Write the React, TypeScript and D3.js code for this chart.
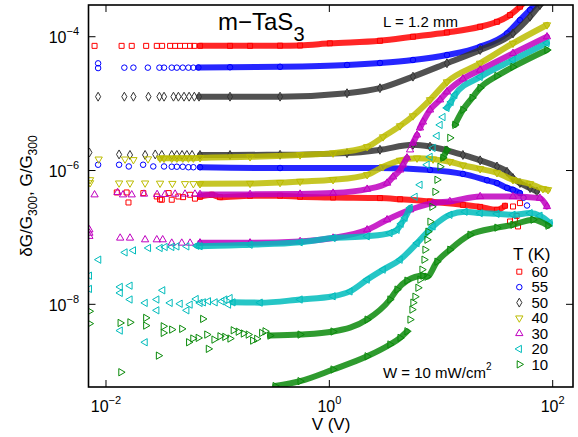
import React from "react";
import * as d3 from "d3";

type Pt = [number, number];

const temperatures = [60, 55, 50, 40, 30, 20, 10];
const tempColors = ["#ff0000", "#0000ff", "#333333", "#bcbc00", "#c000c0", "#00bcbc", "#0a8a0a"];
const xTickExponents = [-2, 0, 2];
const yTickExponents = [-4, -6, -8];

// ---- 60 K ----
const g60: Pt[] = [
  [0.0079, 7.3e-5], [0.0138, 7.3e-5], [0.017, 7.3e-5], [0.0229, 7.3e-5], [0.0285, 7.3e-5], [0.0318, 7.3e-5],
  [0.0375, 7.3e-5], [0.0416, 7.3e-5], [0.046, 7.3e-5], [0.051, 7.3e-5], [0.0566, 7.3e-5], [0.0618, 7.3e-5],
  [0.0695, 7.3e-5], [0.129, 7.3e-5], [0.195, 7.3e-5], [0.362, 7.35e-5], [0.547, 7.4e-5], [1.01, 7.96e-5],
  [2.84, 8.7e-5], [5.61, 1.0e-4], [11.3, 1.16e-4], [22.4, 1.41e-4], [31.7, 1.67e-4], [41.5, 2.11e-4],
  [50.9, 2.81e-4], [57.6, 3.5e-4],
];
const dg60: Pt[] = [
  [0.0125, 4.7e-7], [0.0153, 4.7e-7], [0.0159, 3.33e-7], [0.0216, 4.6e-7], [0.0285, 4.09e-7], [0.0305, 3.7e-7],
  [0.0316, 3.66e-7], [0.0364, 4.6e-7], [0.0388, 3.66e-7], [0.0445, 4.09e-7], [0.049, 4.0e-7], [0.0566, 4.34e-7],
  [0.0626, 3.8e-7], [0.0695, 4.05e-7], [0.0885, 4.34e-7], [0.105, 4.0e-7], [0.195, 4.19e-7], [0.362, 4.2e-7],
  [0.547, 4.05e-7], [1.08, 3.95e-7], [2.84, 3.87e-7], [4.3, 3.72e-7], [7.97, 3.45e-7], [15.7, 3.07e-7],
  [22.4, 2.86e-7], [31.7, 2.59e-7], [37.4, 2.97e-7], [41.5, 1.73e-7], [44.1, 2.9e-7], [45.9, 1.84e-7],
  [47.5, 2.1e-7], [48.9, 1.46e-7], [50.9, 3.26e-7],
];

// ---- 55 K ----
const g55: Pt[] = [
  [0.0085, 4.0e-5], [0.0085, 3.4e-5], [0.0146, 3.45e-5], [0.0176, 3.45e-5], [0.0237, 3.45e-5], [0.0301, 3.45e-5],
  [0.0331, 3.45e-5], [0.0388, 3.45e-5], [0.0431, 3.45e-5], [0.0487, 3.45e-5], [0.0547, 3.45e-5], [0.0606, 3.45e-5],
  [0.0672, 3.47e-5], [0.129, 3.5e-5], [0.362, 3.55e-5], [1.44, 3.78e-5], [2.84, 4.05e-5], [5.61, 4.49e-5],
  [11.3, 5.33e-5], [22.4, 7.1e-5], [39, 1.12e-4], [50.9, 1.77e-4], [62.7, 2.51e-4], [72.3, 3.2e-4],
];
const dg55: Pt[] = [
  [0.0085, 1.22e-6], [0.0131, 1.22e-6], [0.016, 1.15e-6], [0.0215, 1.22e-6], [0.0265, 1.15e-6], [0.0331, 1.15e-6],
  [0.0388, 1.14e-6], [0.0431, 1.14e-6], [0.0487, 1.14e-6], [0.0547, 1.12e-6], [0.0606, 1.12e-6], [0.0695, 1.12e-6],
  [0.362, 1.09e-6], [2.84, 1.09e-6], [7.97, 1.02e-6], [15.7, 8.9e-7], [25.8, 7.15e-7], [31.7, 6.49e-7],
  [39, 5.5e-7], [44.1, 5.15e-7], [50.9, 4.6e-7], [54.8, 3.92e-7], [58.9, 3.0e-7],
];

// ---- 50 K ----
const g50: Pt[] = [
  [0.0085, 1.27e-5], [0.0146, 1.27e-5], [0.0176, 1.27e-5], [0.024, 1.27e-5], [0.0301, 1.27e-5], [0.0331, 1.27e-5],
  [0.0402, 1.27e-5], [0.0445, 1.27e-5], [0.05, 1.27e-5], [0.0555, 1.27e-5], [0.0618, 1.27e-5], [0.0681, 1.27e-5],
  [0.129, 1.27e-5], [0.362, 1.27e-5], [1.44, 1.43e-5], [2.84, 1.7e-5], [5.61, 2.53e-5], [11.3, 4.01e-5],
  [22.4, 6.33e-5], [44.1, 1.12e-4], [62.7, 1.99e-4], [76.9, 2.97e-4], [87, 3.7e-4],
];
const dg50: Pt[] = [
  [0.0071, 1.86e-6], [0.0131, 1.74e-6], [0.0164, 1.71e-6], [0.0224, 1.71e-6], [0.0276, 1.74e-6], [0.0316, 1.71e-6],
  [0.0388, 1.71e-6], [0.0431, 1.71e-6], [0.048, 1.71e-6], [0.053, 1.71e-6], [0.059, 1.71e-6], [0.0695, 1.71e-6],
  [0.129, 1.71e-6], [0.362, 1.72e-6], [1.44, 1.82e-6], [2.84, 2.04e-6], [5.61, 2.42e-6], [7.97, 2.28e-6],
  [11.3, 2.0e-6], [15.7, 1.71e-6], [22.4, 1.42e-6], [31.7, 1.15e-6], [39, 9.6e-7], [44.1, 7.7e-7],
  [50.9, 6.5e-7], [62.7, 5.45e-7], [72.3, 4.86e-7],
];

// ---- 40 K ----
const g40: Pt[] = [
  [0.0086, 1.48e-6], [0.0148, 1.48e-6], [0.0176, 1.45e-6], [0.0238, 1.49e-6], [0.0305, 1.52e-6], [0.0331, 1.52e-6],
  [0.0388, 1.52e-6], [0.0431, 1.53e-6], [0.0487, 1.53e-6], [0.0547, 1.53e-6], [0.0606, 1.53e-6], [0.0695, 1.55e-6],
  [0.195, 1.6e-6], [0.547, 1.71e-6], [1.08, 1.82e-6], [2.18, 2.26e-6], [3.03, 3.18e-6], [4.3, 4.65e-6],
  [5.61, 6.55e-6], [7.97, 1.14e-5], [11.3, 2.11e-5], [22.4, 4.01e-5], [44.1, 7.96e-5], [88.9, 1.5e-4],
];
const dg40: Pt[] = [
  [0.0072, 7.27e-7], [0.0072, 6.55e-7], [0.0131, 6.49e-7], [0.0164, 6.49e-7], [0.0224, 6.49e-7], [0.0305, 6.45e-7],
  [0.0393, 6.4e-7], [0.051, 6.35e-7], [0.0606, 6.35e-7], [0.0695, 6.33e-7], [0.195, 6.4e-7], [0.362, 6.6e-7],
  [0.547, 6.86e-7], [1.08, 7.27e-7], [2.18, 8.63e-7], [3.03, 1.14e-6], [4.3, 1.42e-6], [6.1, 1.53e-6],
  [8.48, 1.48e-6], [12, 1.35e-6], [15.7, 1.2e-6], [22.4, 1.06e-6], [31.7, 9.24e-7], [44.1, 7.27e-7],
  [62.7, 6.33e-7], [81.8, 5.33e-7], [90.8, 5.15e-7],
];

// ---- 30 K ----
const g30: Pt[] = [
  [0.0079, 4.34e-7], [0.0127, 4.7e-7], [0.0142, 4.34e-7], [0.017, 4.34e-7], [0.0219, 4.45e-7], [0.0287, 4.4e-7],
  [0.0338, 4.4e-7], [0.0416, 4.45e-7], [0.051, 4.45e-7], [0.0626, 4.45e-7], [0.0695, 4.4e-7], [0.195, 4.4e-7],
  [0.547, 4.45e-7], [1.08, 4.6e-7], [2.18, 5.27e-7], [3.29, 6.49e-7], [3.72, 8.05e-7], [4.3, 1.02e-6],
  [4.57, 1.22e-6], [4.96, 1.55e-6], [5.28, 2.04e-6], [5.61, 2.59e-6], [6.1, 3.41e-6], [6.48, 4.34e-6],
  [6.89, 5.33e-6], [7.97, 8.05e-6], [9.8, 1.14e-5], [11.3, 1.5e-5], [15.7, 2.34e-5], [22.4, 3.18e-5],
  [44.1, 5.65e-5], [88.9, 1.0e-4],
];
const dg30: Pt[] = [
  [0.0071, 1.3e-7], [0.0071, 1.16e-7], [0.0071, 1.04e-7], [0.0134, 9.8e-8], [0.0164, 9.8e-8], [0.0224, 9.24e-8],
  [0.0285, 9.24e-8], [0.0322, 9.24e-8], [0.0388, 8.24e-8], [0.0477, 8.24e-8], [0.0566, 8.24e-8], [0.0695, 8.3e-8],
  [0.195, 8.3e-8], [0.547, 8.71e-8], [1.08, 9.79e-8], [2.18, 1.3e-7], [3.29, 1.84e-7], [5.28, 2.59e-7],
  [8.48, 3.26e-7], [12, 3.45e-7], [22.4, 4.09e-7], [44.1, 4.09e-7], [76.9, 3.87e-7], [88.9, 2.9e-7],
];

// ---- 20 K ----
const g20: Pt[] = [
  [0.0086, 4.65e-8], [0.0148, 5.97e-8], [0.0176, 6.4e-8], [0.024, 6.95e-8], [0.0305, 6.95e-8], [0.0338, 7.2e-8],
  [0.0388, 7.2e-8], [0.0431, 7.34e-8], [0.0529, 7.34e-8], [0.065, 7.5e-8], [0.0695, 7.4e-8], [0.195, 7.78e-8],
  [0.547, 8.47e-8], [1.08, 9.79e-8], [2.18, 1.04e-7], [3.49, 1.16e-7], [4.04, 1.3e-7], [4.39, 1.6e-7],
  [4.76, 1.97e-7], [5.28, 2.77e-7], [5.85, 4.05e-7], [6.48, 6.12e-7], [7.49, 1.22e-6], [7.97, 1.6e-6],
  [8.48, 2.18e-6], [9.21, 3.3e-6], [9.8, 4.81e-6], [10.4, 6.3e-6], [11.3, 8.63e-6], [12.3, 1.06e-5],
  [13.3, 1.35e-5], [22.4, 2.51e-5], [44.1, 4.49e-5], [88.9, 8.05e-5],
];
const dg20: Pt[] = [
  [0.0071, 2.68e-8], [0.0071, 1.7e-8], [0.0134, 1.82e-8], [0.0134, 1.48e-8], [0.0134, 4.05e-9], [0.0164, 1.9e-8],
  [0.0164, 1.18e-8], [0.0224, 1.05e-8], [0.0224, 2.71e-9], [0.0285, 1.18e-8], [0.0285, 8.13e-9], [0.0322, 1.62e-8],
  [0.0375, 1.05e-8], [0.0461, 1.02e-8], [0.0529, 8.13e-9], [0.0566, 9.9e-9], [0.0641, 1.2e-8], [0.0695, 1.05e-8],
  [0.0743, 1.07e-8], [0.0826, 1.11e-8], [0.0948, 1.07e-8], [0.109, 1.11e-8], [0.116, 1.18e-8], [0.125, 9.9e-9],
  [0.129, 1.24e-8], [0.137, 1.07e-8], [0.24, 1.06e-8], [0.547, 1.18e-8], [1.08, 1.32e-8], [1.53, 1.56e-8],
  [2.18, 2.34e-8], [3.03, 3.3e-8], [4.3, 4.65e-8], [6.1, 8.24e-8], [8.48, 1.46e-7], [12, 2.18e-7],
  [16.4, 2.42e-7], [22.4, 2.31e-7], [31.7, 2.25e-7], [44.1, 2.18e-7], [62.7, 2.31e-7], [76.9, 2.11e-7],
  [94.6, 1.64e-7],
];

// ---- 10 K ----
const g10: Pt[] = [
  [0.327, 6.0e-10], [0.547, 7.1e-10], [1.08, 1.06e-9], [2.18, 1.67e-9], [3.49, 2.51e-9], [4.3, 3.15e-9],
  [4.96, 3.95e-9], [5.28, 5.91e-9], [5.5, 8.34e-9], [5.61, 1.06e-8], [5.85, 1.3e-8], [6.22, 1.77e-8],
  [6.48, 2.34e-8], [6.76, 3.3e-8], [7.05, 4.65e-8], [7.19, 6.55e-8], [7.49, 9.24e-8], [7.65, 1.22e-7],
  [7.97, 1.72e-7], [8.3, 2.87e-7], [8.83, 4.81e-7], [9.21, 7.27e-7], [9.8, 1.14e-6], [10.4, 1.55e-6],
  [11.3, 2.04e-6], [12, 3.08e-6], [13.3, 4.81e-6], [15.7, 8.05e-6], [19, 1.22e-5], [22.4, 1.72e-5],
  [31.7, 2.59e-5], [44.1, 3.53e-5], [88.9, 6.33e-5],
];
const dg10: Pt[] = [
  [0.0071, 7.87e-9], [0.0071, 5.15e-9], [0.0134, 5.27e-9], [0.0136, 9.66e-10], [0.0164, 5.38e-9], [0.0227, 6.27e-9],
  [0.0227, 4.81e-9], [0.0295, 1.71e-9], [0.0326, 4.7e-9], [0.0326, 3.74e-9], [0.0388, 4.19e-9], [0.0477, 4.3e-9],
  [0.055, 2.71e-9], [0.06, 3.08e-9], [0.067, 3.15e-9], [0.0735, 6.05e-9], [0.08, 3.53e-9], [0.0826, 2.16e-9],
  [0.0928, 2.97e-9], [0.105, 3.33e-9], [0.116, 3.26e-9], [0.129, 3.08e-9], [0.138, 4.09e-9], [0.153, 3.9e-9],
  [0.17, 3.66e-9], [0.188, 3.53e-9], [0.206, 2.87e-9], [0.224, 3.05e-9], [0.248, 3.74e-9], [0.266, 3.95e-9],
  [0.294, 3.41e-9], [0.547, 3.53e-9], [1.08, 3.92e-9], [2.18, 5.91e-9], [3.49, 1.18e-8], [4.04, 1.66e-8],
  [4.96, 2.26e-8], [6.89, 2.68e-8], [7.49, 2.59e-8], [9.21, 4.34e-8], [12, 6.55e-8], [18.2, 1.1e-7],
  [31.7, 1.4e-7], [44.1, 1.55e-7], [66.7, 1.84e-7], [90.8, 1.5e-7],
];

type Series = { temp: number; data: Pt[]; bandFrom: number; bandTo: number };
const seriesList: Series[] = [
  { temp: 60, data: g60, bandFrom: 0.065, bandTo: 1000 },
  { temp: 60, data: dg60, bandFrom: 0.065, bandTo: 38 },
  { temp: 55, data: g55, bandFrom: 0.065, bandTo: 1000 },
  { temp: 55, data: dg55, bandFrom: 0.065, bandTo: 52 },
  { temp: 50, data: g50, bandFrom: 0.065, bandTo: 1000 },
  { temp: 50, data: dg50, bandFrom: 0.065, bandTo: 1000 },
  { temp: 40, data: g40, bandFrom: 0.03, bandTo: 1000 },
  { temp: 40, data: dg40, bandFrom: 0.065, bandTo: 1000 },
  { temp: 30, data: g30, bandFrom: 0.065, bandTo: 1000 },
  { temp: 30, data: dg30, bandFrom: 0.065, bandTo: 1000 },
  { temp: 20, data: g20, bandFrom: 0.065, bandTo: 1000 },
  { temp: 20, data: dg20, bandFrom: 0.13, bandTo: 1000 },
  { temp: 10, data: g10, bandFrom: 0.3, bandTo: 1000 },
  { temp: 10, data: dg10, bandFrom: 0.29, bandTo: 1000 },
];

const W = 578;
const H = 437;
const PL = 88.5, PR = 573, PT = 5, PB = 387;
const FONT = "'Liberation Sans', Arial, Helvetica, sans-serif";

const xScale = d3.scaleLog().domain([0.006973, 152]).range([PL, PR]);
const yScale = d3.scaleLog().domain([5.81e-10, 2.98e-4]).range([PB, PT]);

function symbolFor(temp: number): { d: string; rot: number } {
  const i = temperatures.indexOf(temp);
  const gen = d3.symbol();
  if (i === 0) return { d: gen.type(d3.symbolSquare).size(25)() as string, rot: 0 };
  if (i === 1) return { d: gen.type(d3.symbolCircle).size(24)() as string, rot: 0 };
  if (i === 2) return { d: gen.type(d3.symbolDiamond).size(23)() as string, rot: 0 };
  const tri = gen.type(d3.symbolTriangle).size(23)() as string;
  const rots: Record<number, number> = { 40: 180, 30: 0, 20: -90, 10: 90 };
  return { d: tri, rot: rots[temp] };
}

function bandRuns(s: Series): [number, number][][] {
  const pts = s.data
    .filter((p) => p[0] >= s.bandFrom && p[0] <= s.bandTo)
    .map((p) => [xScale(p[0]), yScale(p[1])] as [number, number]);
  const runs: [number, number][][] = [];
  let cur: [number, number][] = [];
  for (let i = 0; i < pts.length; i++) {
    if (cur.length === 0) {
      cur.push(pts[i]);
      continue;
    }
    const prev = cur[cur.length - 1];
    const dx = Math.abs(pts[i][0] - prev[0]);
    const dy = Math.abs(pts[i][1] - prev[1]);
    if (dy > 2.2 * dx) {
      if (cur.length > 1) runs.push(cur);
      cur = [pts[i]];
    } else cur.push(pts[i]);
  }
  if (cur.length > 1) runs.push(cur);
  return runs;
}

const lineGen = d3.line<[number, number]>().x((d) => d[0]).y((d) => d[1]).curve(d3.curveMonotoneX);

function Pow({ x, y, exp, anchor }: { x: number; y: number; exp: number; anchor: string }) {
  const e = exp < 0 ? "\u2212" + Math.abs(exp) : String(exp);
  return (
    <text x={x} y={y} fontFamily={FONT} fontSize={16} textAnchor={anchor}>
      10
      <tspan dy={-8} fontSize={11}>{e}</tspan>
    </text>
  );
}

export default function App() {
  const xTicks = xTickExponents.map((e) => ({ e, px: xScale(10 ** e) }));
  const yTicks = yTickExponents.map((e) => ({ e, py: yScale(10 ** e) }));
  const legendY0 = 271.7;
  const legendDy = 15.45;

  return (
    <svg width={W} height={H} style={{ position: "absolute", left: 0, top: 0, background: "#fff" }}>
      <defs>
        <clipPath id="plotClip">
          <rect x={PL} y={PT} width={PR - PL} height={PB - PT} />
        </clipPath>
      </defs>
      <rect x={0} y={0} width={W} height={H} fill="#fff" />
      <g clipPath="url(#plotClip)">
        {seriesList.map((s, si) => {
          const ci = temperatures.indexOf(s.temp);
          const color = tempColors[ci];
          const sym = symbolFor(s.temp);
          return (
            <g key={si}>
              {bandRuns(s).map((run, ri) => (
                <path key={ri} d={lineGen(run) || ""} fill="none" stroke={color} strokeWidth={6}
                  strokeLinecap="round" strokeLinejoin="round" opacity={0.85} />
              ))}
              {s.data.map((p, pi) => (
                <path key={pi} d={sym.d} fill="none" stroke={color} strokeWidth={1}
                  transform={`translate(${xScale(p[0])},${yScale(p[1])}) rotate(${sym.rot})`} />
              ))}
            </g>
          );
        })}
      </g>
      {/* frame */}
      <rect x={PL} y={PT} width={PR - PL} height={PB - PT} fill="none" stroke="#000" strokeWidth={1.6} />
      {xTicks.map((t) => (
        <g key={"xt" + t.e}>
          <line x1={t.px} x2={t.px} y1={PB} y2={PB - 7} stroke="#000" strokeWidth={1} />
          <line x1={t.px} x2={t.px} y1={PT} y2={PT + 7} stroke="#000" strokeWidth={1} />
          <Pow x={t.px} y={411.7} exp={t.e} anchor="middle" />
        </g>
      ))}
      {yTicks.map((t) => (
        <g key={"yt" + t.e}>
          <line x1={PL} x2={PL + 7} y1={t.py} y2={t.py} stroke="#000" strokeWidth={1} />
          <line x1={PR} x2={PR - 7} y1={t.py} y2={t.py} stroke="#000" strokeWidth={1} />
          <Pow x={79} y={t.py + 6.5} exp={t.e} anchor="end" />
        </g>
      ))}
      {/* axis titles */}
      <text x={331} y={430} fontFamily={FONT} fontSize={17} textAnchor="middle">V (V)</text>
      <text transform="translate(32,196) rotate(-90)" fontFamily={FONT} fontSize={17} textAnchor="middle">
        {"\u03B4G/G"}
        <tspan dy={5} fontSize={12}>300</tspan>
        <tspan dy={-5}>{", G/G"}</tspan>
        <tspan dy={5} fontSize={12}>300</tspan>
      </text>
      {/* annotations */}
      <text x={218} y={30} fontFamily={FONT} fontSize={24}>
        {"m\u2212TaS"}
        <tspan dy={11} fontSize={20}>3</tspan>
      </text>
      <text x={383} y={27} fontFamily={FONT} fontSize={15}>L = 1.2 mm</text>
      <text x={383} y={378} fontFamily={FONT} fontSize={15}>
        W = 10 mW/cm
        <tspan dy={-8} fontSize={10}>2</tspan>
      </text>
      {/* legend */}
      <text x={513} y={260} fontFamily={FONT} fontSize={17}>T (K)</text>
      {temperatures.map((t, i) => {
        const sym = symbolFor(t);
        const cy = legendY0 + i * legendDy;
        return (
          <g key={"lg" + t}>
            <path d={sym.d} fill="none" stroke={tempColors[i]} strokeWidth={1}
              transform={`translate(519.3,${cy}) rotate(${sym.rot})`} />
            <text x={531.5} y={cy + 5.3} fontFamily={FONT} fontSize={15}>{t}</text>
          </g>
        );
      })}
    </svg>
  );
}
